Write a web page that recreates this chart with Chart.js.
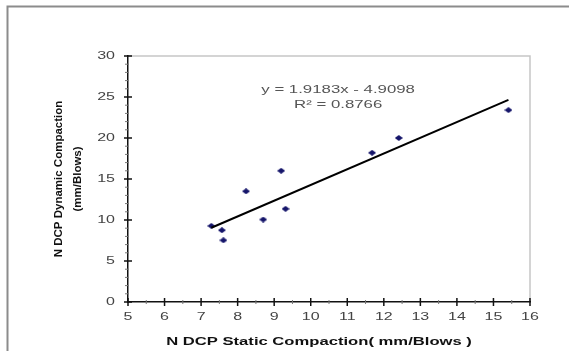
<!DOCTYPE html>
<html>
<head>
<meta charset="utf-8">
<script src="https://cdn.jsdelivr.net/npm/chart.js@4.4.1/dist/chart.umd.min.js"></script>
<style>
  html, body { margin: 0; padding: 0; background: #fff; }
  #wrap { position: relative; width: 569px; height: 351px; }
</style>
</head>
<body>
<div id="wrap"><canvas id="ndcpChart"></canvas></div>
<script>
// values
const staticComp = [7.28, 7.57, 7.61, 8.23, 8.70, 9.19, 9.31, 11.68, 12.41, 15.41];
const dynamicComp = [9.28, 8.75, 7.53, 13.5, 10.06, 16.0, 11.36, 18.2, 20.0, 23.4];
const xTickVals = [5, 6, 7, 8, 9, 10, 11, 12, 13, 14, 15, 16];
const yTickVals = [0, 5, 10, 15, 20, 25, 30];
const trendSlope = 1.9183;
const trendIntercept = -4.9098;
const equationLines = ['y = 1.9183x - 4.9098', 'R² = 0.8766'];
const xTitle = 'N DCP Static Compaction( mm/Blows )';
const yTitle = ['N DCP Dynamic Compaction', '(mm/Blows)'];

// the source picture is stretched sideways, so flat text is drawn wider
const STRETCH = 1.6;
const FONT = '"Liberation Sans", Arial, sans-serif';

const points = staticComp.map((x, i) => ({ x: x, y: dynamicComp[i] }));
const xLo = Math.min(...staticComp);
const xHi = Math.max(...staticComp);
const trendPts = [
    { x: xLo, y: trendSlope * xLo + trendIntercept },
    { x: xHi, y: trendSlope * xHi + trendIntercept }
];

// wide diamond marker, like the stretched excel one
const diamond = document.createElement('canvas');
diamond.width = 8;
diamond.height = 6;
const dctx = diamond.getContext('2d');
dctx.fillStyle = '#15156a';
dctx.beginPath();
dctx.moveTo(4, 0);
dctx.lineTo(8, 3);
dctx.lineTo(4, 6);
dctx.lineTo(0, 3);
dctx.closePath();
dctx.fill();

function wideText(ctx, text, x, y, align, font, color) {
    ctx.save();
    ctx.font = font;
    ctx.fillStyle = color;
    ctx.textAlign = align;
    ctx.textBaseline = 'middle';
    ctx.translate(x, y);
    ctx.scale(STRETCH, 1);
    ctx.fillText(text, 0, 0);
    ctx.restore();
}

function tickLine(ctx, x1, y1, x2, y2, color, w) {
    ctx.strokeStyle = color;
    ctx.lineWidth = w;
    ctx.beginPath();
    ctx.moveTo(x1, y1);
    ctx.lineTo(x2, y2);
    ctx.stroke();
}

const excelLook = {
    id: 'excelLook',
    beforeDraw(chart) {
        const { ctx, chartArea: a } = chart;
        ctx.save();
        ctx.fillStyle = '#fff';
        ctx.fillRect(0, 0, chart.width, chart.height);
        // outer frame (left + top)
        ctx.strokeStyle = '#8c8c8c';
        ctx.lineWidth = 2;
        ctx.beginPath();
        ctx.moveTo(7.5, chart.height);
        ctx.lineTo(7.5, 6.5);
        ctx.lineTo(chart.width, 6.5);
        ctx.stroke();
        // plot area border top + right
        ctx.strokeStyle = '#c6c6c6';
        ctx.lineWidth = 1.5;
        ctx.beginPath();
        ctx.moveTo(a.left, a.top);
        ctx.lineTo(a.right, a.top);
        ctx.lineTo(a.right, a.bottom);
        ctx.stroke();
        ctx.restore();
    },
    afterDraw(chart) {
        const { ctx, chartArea: a } = chart;
        const xs = chart.scales.x;
        const ys = chart.scales.y;
        ctx.save();

        // x ticks: major crossing the axis, minor at halves
        xTickVals.forEach((v, i) => {
            const px = xs.getPixelForValue(v);
            tickLine(ctx, px, a.bottom - 4, px, a.bottom + 4, '#111', 1.5);
            if (i < xTickVals.length - 1) {
                const mx = xs.getPixelForValue(v + 0.5);
                tickLine(ctx, mx, a.bottom - 2, mx, a.bottom + 2, '#777', 1);
            }
            wideText(ctx, String(v), px, 317, 'center', '10px ' + FONT, '#444');
        });

        // y ticks: major every 5, minor every 1
        yTickVals.forEach((v, i) => {
            const py = ys.getPixelForValue(v);
            tickLine(ctx, a.left - 4, py, a.left + 4, py, '#111', 1.5);
            if (i < yTickVals.length - 1) {
                for (let k = 1; k < 5; k++) {
                    const my = ys.getPixelForValue(v + k);
                    tickLine(ctx, a.left - 3, my, a.left + 1, my, '#777', 1);
                }
            }
            wideText(ctx, String(v), 115 / STRETCH * STRETCH, py, 'right', '10px ' + FONT, '#444');
        });

        // axis titles
        wideText(ctx, xTitle, 319, 342, 'center', 'bold 10.4px ' + FONT, '#111');
        const midY = (a.top + a.bottom) / 2;
        [58.7, 78].forEach((tx, i) => {
            ctx.save();
            ctx.font = 'bold 11.5px ' + FONT;
            ctx.fillStyle = '#111';
            ctx.textAlign = 'center';
            ctx.textBaseline = 'middle';
            ctx.translate(tx, midY);
            ctx.rotate(-Math.PI / 2);
            ctx.fillText(yTitle[i], 0, 0);
            ctx.restore();
        });

        // trendline equation
        const ex = xs.getPixelForValue(10.75);
        const ey = ys.getPixelForValue(25.9);
        equationLines.forEach((t, i) => {
            wideText(ctx, t, ex, ey + i * 15, 'center', '10.5px ' + FONT, '#555');
        });

        ctx.restore();
    }
};

const ctx = document.getElementById('ndcpChart').getContext('2d');
const ndcpChart = new Chart(ctx, {
    type: 'scatter',
    data: {
        datasets: [{
            label: 'Linear (N DCP)',
            type: 'line',
            data: trendPts,
            borderColor: '#000',
            borderWidth: 2,
            pointRadius: 0,
            fill: false,
            order: 1
        }, {
            label: 'N DCP',
            data: points,
            pointStyle: diamond,
            pointRadius: 4,
            order: 2
        }]
    },
    options: {
        responsive: true,
        maintainAspectRatio: false,
        animation: false,
        layout: { padding: { top: 56, right: 39, left: 0, bottom: 0 } },
        plugins: {
            legend: { display: false },
            tooltip: { enabled: false }
        },
        scales: {
            x: {
                type: 'linear',
                min: 5,
                max: 16,
                ticks: { display: false, stepSize: 1 },
                grid: { display: false, drawTicks: false },
                border: { color: '#111', width: 1.5 },
                afterFit(scale) { scale.height = 49; }
            },
            y: {
                min: 0,
                max: 30,
                ticks: { display: false, stepSize: 5 },
                grid: { display: false, drawTicks: false },
                border: { color: '#111', width: 1.5 },
                afterFit(scale) { scale.width = 128; }
            }
        }
    },
    plugins: [excelLook]
});
</script>
</body>
</html>
